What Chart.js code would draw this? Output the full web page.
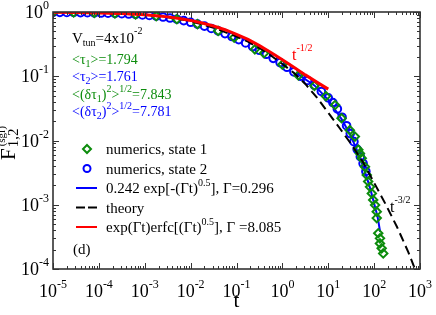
<!DOCTYPE html>
<html>
<head>
<meta charset="utf-8">
<script src="https://cdn.jsdelivr.net/npm/chart.js@4.4.0/dist/chart.umd.min.js"></script>
<style>
  body { margin: 0; background: #fff; }
  #wrap { width: 436px; height: 315px; position: relative; }
</style>
</head>
<body>
<div id="wrap"><canvas id="chart"></canvas></div>
<script>
// numerics, state 2 (blue circles)
const tState2 = [1.00e-5, 1.41e-5, 2.00e-5, 2.82e-5, 3.98e-5, 5.62e-5, 7.94e-5, 1.12e-4, 1.58e-4, 2.24e-4,
  3.16e-4, 4.47e-4, 6.31e-4, 8.91e-4, 1.26e-3, 1.78e-3, 2.51e-3, 3.55e-3, 5.01e-3, 7.08e-3,
  1.00e-2, 1.41e-2, 2.00e-2, 2.82e-2, 3.98e-2, 5.62e-2, 7.94e-2, 0.112, 0.158, 0.224,
  0.316, 0.447, 0.631, 0.891, 1.26, 1.78, 2.51, 3.55, 5.01, 7.08,
  10.0, 12.6, 15.8, 20.0, 25.1, 30.2, 36.3, 42.7, 50.1, 57.5, 66.1];
const fState2 = [0.990, 0.988, 0.986, 0.983, 0.979, 0.975, 0.970, 0.965, 0.958, 0.950,
  0.941, 0.930, 0.917, 0.902, 0.884, 0.862, 0.836, 0.806, 0.772, 0.734,
  0.692, 0.648, 0.602, 0.555, 0.508, 0.461, 0.415, 0.372, 0.330, 0.290,
  0.254, 0.220, 0.190, 0.163, 0.138, 0.117, 0.100, 0.086, 0.072, 0.058,
  0.046, 0.039, 0.031, 0.023, 0.017, 0.0128, 0.0096, 0.0073, 0.0056, 0.0044, 0.0033];

// numerics, state 1 (green diamonds)
const tState1 = [1.00e-5, 2.82e-5, 7.94e-5, 2.24e-4, 6.31e-4, 1.78e-3, 5.01e-3, 1.41e-2, 3.98e-2, 8.91e-2,
  0.251, 0.398, 1.00, 2.24, 5.01, 8.91,
  14.1, 19.5, 29.5, 38.0, 45.2, 49.0, 53.7, 63.1, 69.2, 74.1, 81.3, 89.1, 95.5, 105, 114, 114,
  123, 134, 134, 146, 158];
const fState1 = [0.990, 0.983, 0.970, 0.950, 0.917, 0.862, 0.772, 0.648, 0.508, 0.400,
  0.262, 0.228, 0.152, 0.103, 0.071, 0.049,
  0.0357, 0.0222, 0.0145, 0.0115, 0.0072, 0.0063, 0.0053, 0.0039, 0.0029, 0.0023, 0.0019, 0.0015, 0.00119, 0.00099, 0.00078, 0.00062,
  0.00036, 0.00030, 0.00025, 0.00021, 0.000175];

// 0.242 exp[-(Γt)^0.5], Γ=0.296
const tFit = [2, 5, 10, 20, 30, 40, 50, 60, 70, 80, 90, 100, 110, 120, 135];
const fFit = [0.112, 0.072, 0.043, 0.021, 0.0123, 0.0078, 0.0052, 0.0036, 0.0026, 0.0019, 0.0014, 0.00105, 0.00081, 0.00063, 0.00038];

// theory
const tTheory = [1e-5, 3.16e-5, 1e-4, 3.16e-4, 1e-3, 3.16e-3, 0.01, 0.0316, 0.1, 0.178, 0.316, 0.562,
  1, 1.78, 3.16, 5.62, 10, 17.8, 31.6, 56.2, 100, 178, 316, 562, 776];
const fTheory = [0.990, 0.982, 0.967, 0.942, 0.900, 0.830, 0.720, 0.570, 0.415, 0.345, 0.275, 0.210,
  0.155, 0.113, 0.076, 0.047, 0.027, 0.0155, 0.0088, 0.0047, 0.0022, 0.00102, 0.00045, 0.00018, 0.0001];

// exp(Γt)erfc[(Γt)^0.5], Γ=8.085
const tErfc = [1e-5, 3.16e-5, 1e-4, 3.16e-4, 1e-3, 1.78e-3, 3.16e-3, 5.62e-3, 0.01, 0.0178, 0.0316,
  0.0562, 0.1, 0.178, 0.316, 0.562, 1, 1.78, 3.16, 5.62, 10];
const fErfc = [0.990, 0.982, 0.968, 0.944, 0.904, 0.876, 0.840, 0.795, 0.740, 0.675, 0.605,
  0.530, 0.450, 0.375, 0.300, 0.235, 0.180, 0.138, 0.105, 0.081, 0.063];

const xDecades = [-5, -4, -3, -2, -1, 0, 1, 2, 3];
const yDecades = [-4, -3, -2, -1, 0];

const GREEN = '#0c8c0c';
const BLUE = '#0000ff';
const RED = '#ff0000';
const SERIF = '"Liberation Serif", "Times New Roman", serif';

function pts(xs, ys) {
    return xs.map((x, i) => ({ x: x, y: ys[i] }));
}

// draw a run of text pieces: [text, size, dy, color]
function rich(ctx, x, y, parts, align, color) {
    let w = 0;
    parts.forEach(p => {
        ctx.font = p[1] + 'px ' + SERIF;
        w += ctx.measureText(p[0]).width;
    });
    let cx = x;
    if (align === 'center') cx = x - w / 2;
    if (align === 'right') cx = x - w;
    ctx.textAlign = 'left';
    ctx.textBaseline = 'alphabetic';
    parts.forEach(p => {
        ctx.font = p[1] + 'px ' + SERIF;
        ctx.fillStyle = p[3] || color || '#000';
        ctx.fillText(p[0], cx, y + (p[2] || 0));
        cx += ctx.measureText(p[0]).width;
    });
}

const decorPlugin = {
    id: 'decor',
    afterDraw(chart) {
        const ctx = chart.ctx;
        const a = chart.chartArea;
        const xs = chart.scales.x, ys = chart.scales.y;
        ctx.save();

        // frame
        ctx.strokeStyle = '#333';
        ctx.lineWidth = 1.6;
        ctx.strokeRect(a.left, a.top, a.right - a.left, a.bottom - a.top);

        // ticks, inward on all sides
        ctx.lineWidth = 1;
        ctx.beginPath();
        xDecades.forEach(e => {
            for (let m = 1; m < 10; m++) {
                if (e === 3 && m > 1) break;
                const px = Math.round(xs.getPixelForValue(m * Math.pow(10, e))) + 0.5;
                const len = m === 1 ? 6 : 3;
                ctx.moveTo(px, a.bottom); ctx.lineTo(px, a.bottom - len);
                ctx.moveTo(px, a.top); ctx.lineTo(px, a.top + len);
            }
        });
        yDecades.forEach(e => {
            for (let m = 1; m < 10; m++) {
                if (e === 0 && m > 1) break;
                const py = Math.round(ys.getPixelForValue(m * Math.pow(10, e))) + 0.5;
                const len = m === 1 ? 6 : 3;
                ctx.moveTo(a.left, py); ctx.lineTo(a.left + len, py);
                ctx.moveTo(a.right, py); ctx.lineTo(a.right - len, py);
            }
        });
        ctx.stroke();

        // tick labels
        xDecades.forEach(e => {
            const px = xs.getPixelForValue(Math.pow(10, e));
            rich(ctx, px, 297, [['10', 18, 0], [String(e), 12, -9]], 'center');
        });
        yDecades.forEach(e => {
            const py = ys.getPixelForValue(Math.pow(10, e));
            rich(ctx, a.left - 4, py + 6, [['10', 18, 0], [String(e), 12, -9]], 'right');
        });

        // axis titles
        rich(ctx, (a.left + a.right) / 2, 307, [['t', 21, 0]], 'center');
        ctx.save();
        ctx.translate(15, 160);
        ctx.rotate(-Math.PI / 2);
        ctx.font = '21px ' + SERIF;
        ctx.fillStyle = '#000';
        ctx.fillText('F', 0, 0);
        const wF = ctx.measureText('F').width;
        ctx.font = '15px ' + SERIF;
        ctx.fillText('1,2', wF + 1, 3);
        ctx.font = '11px ' + SERIF;
        ctx.fillText('(sgl)', wF + 2, -10);
        ctx.restore();

        // annotations
        rich(ctx, 72, 43, [['V', 15, 0], ['tun', 10, 3], ['=4x10', 15, 0], ['-2', 10, -9]], 'left', '#000');
        rich(ctx, 72, 64, [['<τ', 14, 0], ['1', 10, 3], ['>=1.794', 14, 0]], 'left', GREEN);
        rich(ctx, 72, 81, [['<τ', 14, 0], ['2', 10, 3], ['>=1.761', 14, 0]], 'left', BLUE);
        rich(ctx, 72, 99, [['<(δτ', 14, 0], ['1', 10, 3], [')', 14, 0], ['2', 10, -7], ['>', 14, 0], ['1/2', 10, -7], ['=7.843', 14, 0]], 'left', GREEN);
        rich(ctx, 72, 116, [['<(δτ', 14, 0], ['2', 10, 3], [')', 14, 0], ['2', 10, -7], ['>', 14, 0], ['1/2', 10, -7], ['=7.781', 14, 0]], 'left', BLUE);

        rich(ctx, 292, 60, [['t', 16, 0], ['-1/2', 10, -9]], 'left', RED);
        rich(ctx, 390, 212, [['t', 16, 0], ['-3/2', 10, -9]], 'left', '#000');

        // legend
        const lx = 106, sx = 87, rows = [154, 173.5, 193, 212.5, 232];
        ctx.lineWidth = 2;
        ctx.strokeStyle = GREEN;
        ctx.beginPath();
        ctx.moveTo(sx, rows[0] - 9); ctx.lineTo(sx + 4, rows[0] - 5); ctx.lineTo(sx, rows[0] - 1); ctx.lineTo(sx - 4, rows[0] - 5); ctx.closePath();
        ctx.stroke();
        ctx.strokeStyle = BLUE;
        ctx.beginPath();
        ctx.arc(sx, rows[1] - 5, 3.5, 0, Math.PI * 2);
        ctx.stroke();
        ctx.beginPath();
        ctx.moveTo(76, rows[2] - 5); ctx.lineTo(97, rows[2] - 5);
        ctx.stroke();
        ctx.strokeStyle = '#000';
        ctx.setLineDash([9, 3]);
        ctx.beginPath();
        ctx.moveTo(76, rows[3] - 5); ctx.lineTo(97, rows[3] - 5);
        ctx.stroke();
        ctx.setLineDash([]);
        ctx.strokeStyle = RED;
        ctx.beginPath();
        ctx.moveTo(76, rows[4] - 5); ctx.lineTo(97, rows[4] - 5);
        ctx.stroke();

        rich(ctx, lx, rows[0], [['numerics, state 1', 15, 0]], 'left', '#000');
        rich(ctx, lx, rows[1], [['numerics, state 2', 15, 0]], 'left', '#000');
        rich(ctx, lx, rows[2], [['0.242 exp[-(Γt)', 15, 0], ['0.5', 10, -7], ['], Γ=0.296', 15, 0]], 'left', '#000');
        rich(ctx, lx, rows[3], [['theory', 15, 0]], 'left', '#000');
        rich(ctx, lx, rows[4], [['exp(Γt)erfc[(Γt)', 15, 0], ['0.5', 10, -7], ['], Γ =8.085', 15, 0]], 'left', '#000');
        rich(ctx, 73, 254, [['(d)', 15, 0]], 'left', '#000');

        ctx.restore();
    }
};

new Chart(document.getElementById('chart'), {
    type: 'scatter',
    data: {
        datasets: [
            {
                label: 'exp(Γt)erfc[(Γt)^0.5], Γ=8.085',
                data: pts(tErfc, fErfc),
                showLine: true,
                borderColor: RED,
                borderWidth: 3,
                pointRadius: 0,
                tension: 0
            },
            {
                label: 'theory',
                data: pts(tTheory, fTheory),
                showLine: true,
                borderColor: '#000',
                borderWidth: 2,
                borderDash: [9, 5],
                pointRadius: 0,
                tension: 0
            },
            {
                label: 'numerics, state 1',
                data: pts(tState1, fState1),
                showLine: false,
                pointStyle: 'rectRot',
                pointRadius: 4.2,
                pointBorderWidth: 2,
                borderColor: GREEN,
                backgroundColor: 'rgba(0,0,0,0)'
            },
            {
                label: 'numerics, state 2',
                data: pts(tState2, fState2),
                showLine: false,
                pointStyle: 'circle',
                pointRadius: 3.8,
                pointBorderWidth: 2,
                borderColor: BLUE,
                backgroundColor: 'rgba(0,0,0,0)'
            },
            {
                label: '0.242 exp[-(Γt)^0.5], Γ=0.296',
                data: pts(tFit, fFit),
                showLine: true,
                borderColor: BLUE,
                borderWidth: 2,
                pointRadius: 0,
                tension: 0
            }
        ]
    },
    options: {
        responsive: true,
        maintainAspectRatio: false,
        animation: false,
        layout: { padding: { left: 53, right: 16, top: 12, bottom: 46 } },
        plugins: {
            legend: { display: false },
            tooltip: { enabled: false }
        },
        scales: {
            x: { type: 'logarithmic', min: 1e-5, max: 1e3, display: false },
            y: { type: 'logarithmic', min: 1e-4, max: 1, display: false }
        }
    },
    plugins: [decorPlugin]
});
</script>
</body>
</html>
